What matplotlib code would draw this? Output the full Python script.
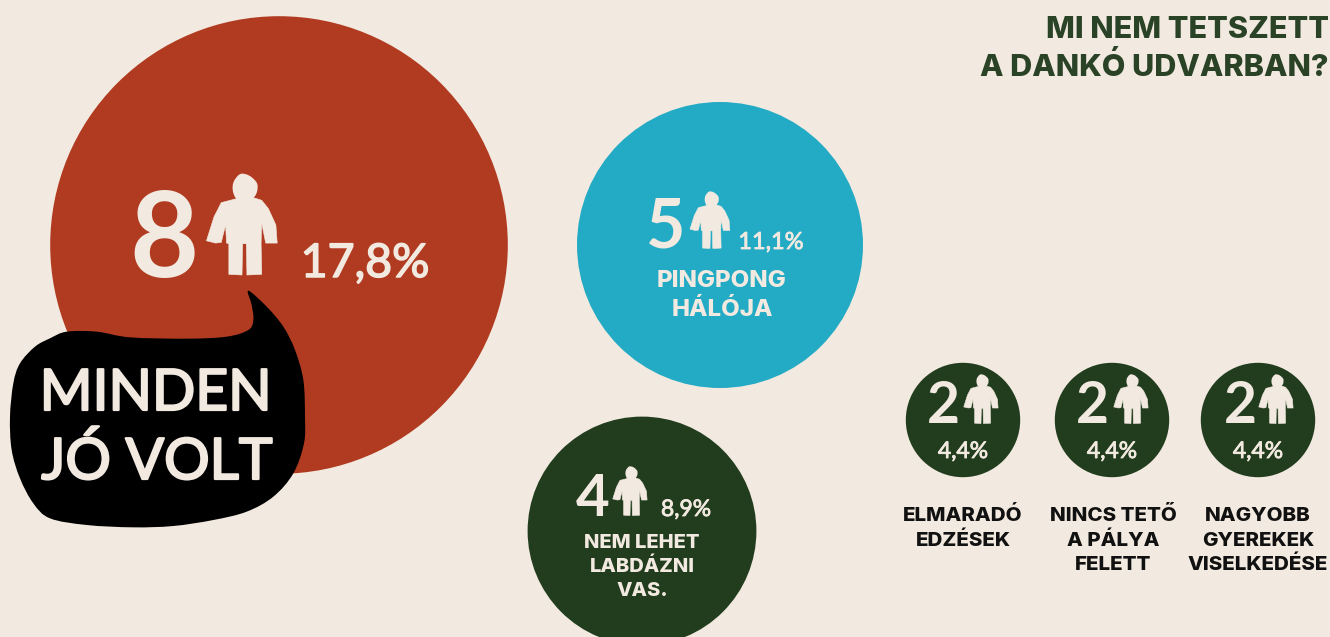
import numpy as np
import matplotlib
matplotlib.use("Agg")
import matplotlib.pyplot as plt
import matplotlib.patheffects as pe
from matplotlib.patches import Circle, PathPatch, Polygon
from matplotlib.path import Path

# ---- data ----
title_lines = ["MI NEM TETSZETT", "A DANKÓ UDVARBAN?"]
categories = ["MINDEN\nJÓ VOLT", "PINGPONG\nHÁLÓJA", "NEM LEHET\nLABDÁZNI\nVAS.",
              "ELMARADÓ\nEDZÉSEK", "NINCS TETŐ\nA PÁLYA\nFELETT", "NAGYOBB\nGYEREKEK\nVISELKEDÉSE"]
counts = [8, 5, 4, 2, 2, 2]
percents = ["17,8%", "11,1%", "8,9%", "4,4%", "4,4%", "4,4%"]

# ---- style / layout ----
BG = "#F2EAE0"; RED = "#B13B20"; BLUE = "#23AAC4"; GREEN = "#223C1E"
CREAM = "#F2EAE0"; TITLE = "#2A4226"; INK = "#111111"
colors = [RED, BLUE, GREEN, GREEN, GREEN, GREEN]
RADIUS_PER_COUNT = 28.6
centers = [(279, 245), (720, 245), (642, 531), (963, 420), (1112, 420), (1258, 420)]
num_layout = [(164, 277, 86), (665, 248, 49), (593, 516, 42), (943, 423, 41), (1092, 423, 41), (1240, 423, 41)]
person_layout = [(242, 173, 103), (710, 191, 58), (630, 466, 50), (981, 374, 50), (1131, 374, 50), (1276, 374, 50)]
pct_layout = [(365, 277, 33.5, 1.1), (771, 249, 17, 0.6), (686, 516, 16.5, 0.6),
              (963, 458, 16.5, 0.6), (1112, 458, 16.5, 0.6), (1258, 458, 16.5, 0.6)]
label_layout = [None,
                (722, [287, 316], 17.3, CREAM),
                (642, [548, 572, 596], 14.5, CREAM),
                (963, [521, 546], 14.8, INK),
                (1113, [521, 546, 570], 14.8, INK),
                (1258, [521, 546, 570], 14.8, INK)]

HAND = "Lato"
plt.rcParams["font.family"] = ["Inter", "DejaVu Sans"]

fig = plt.figure(figsize=(13.3, 6.37), dpi=100, facecolor=BG)
ax = fig.add_axes([0, 0, 1, 1])
ax.set_xlim(0, 1330); ax.set_ylim(637, 0); ax.axis("off")


def smooth_closed(pts):
    pts = np.asarray(pts, float)
    n = len(pts)
    verts = [pts[0]]; codes = [Path.MOVETO]
    for i in range(n):
        p0, p1, p2, p3 = pts[i - 1], pts[i], pts[(i + 1) % n], pts[(i + 2) % n]
        verts += [p1 + (p2 - p0) / 6, p2 - (p3 - p1) / 6, p2]
        codes += [Path.CURVE4] * 3
    return Path(verts, codes)


# person icon outline, in units of icon height (x from centre, y from top)
body = np.array([(108, 100), (62, 112), (40, 155), (17, 228), (45, 235), (62, 233), (75, 180), (78, 235),
                 (85, 237), (85, 330), (125, 332), (127, 237), (138, 237), (140, 332), (185, 330), (183, 235),
                 (185, 175), (197, 235), (232, 235), (228, 180), (205, 130), (185, 105), (160, 97)], float)
body = (body - [125, 22]) / 313
head = np.array([(108, 100), (97, 75), (100, 48), (120, 25), (147, 30), (170, 52), (171, 77), (160, 97), (135, 106)], float)
head = (head - [125, 22]) / 313


def person(cx, top, h):
    ax.add_patch(Polygon(body * h + [cx, top], closed=True, fc=CREAM, ec=CREAM, lw=0.4, joinstyle="round", zorder=4))
    ax.add_patch(PathPatch(smooth_closed(head * h + [cx, top]), fc=CREAM, ec="none", zorder=4))


for c, n, col in zip(centers, counts, colors):
    ax.add_patch(Circle(c, n * RADIUS_PER_COUNT, fc=col, ec="none", zorder=1))

# speech bubble
bubble = np.array([(745, 422), (800, 470), (850, 530), (885, 600), (910, 690), (915, 800), (912, 880), (880, 970),
                   (820, 1040), (740, 1085), (640, 1110), (520, 1128), (400, 1132), (260, 1125), (150, 1105),
                   (100, 1060), (60, 985), (35, 900), (30, 800), (40, 700), (60, 640), (105, 590), (150, 565),
                   (200, 545), (290, 545), (390, 562), (560, 566), (680, 560), (745, 540), (760, 510), (755, 465)],
                  float) / 3 + [0, 150]
ax.add_patch(PathPatch(smooth_closed(bubble), fc="black", ec="none", zorder=3))


def thick(lw):
    return [pe.withStroke(linewidth=lw, foreground=CREAM)]


bubble_lines = categories[0].split("\n")
ax.text(156, 410, bubble_lines[0], family=HAND, fontsize=41, color=CREAM, ha="center", va="baseline", zorder=5, path_effects=thick(1.6))
ax.text(157, 479, bubble_lines[1], family=HAND, fontsize=41, color=CREAM, ha="center", va="baseline", zorder=5, path_effects=thick(1.6))

for i, n in enumerate(counts):
    x, y, s = num_layout[i]
    ax.text(x, y, str(n), family=HAND, weight="bold", fontsize=s, color=CREAM, ha="center", va="baseline", zorder=5)
    person(*person_layout[i])
    x, y, s, lw = pct_layout[i]
    ax.text(x, y, percents[i], family=HAND, fontsize=s, color=CREAM, ha="center", va="baseline", zorder=5, path_effects=thick(lw))
    if label_layout[i]:
        x, ys, s, col = label_layout[i]
        for line, yy in zip(categories[i].split("\n"), ys):
            ax.text(x, yy, line, fontsize=s, weight=800, color=col, ha="center", va="baseline", zorder=5)

for line, yy in zip(title_lines, [38, 76]):
    ax.text(1329, yy, line, fontsize=22, weight=800, color=TITLE, ha="right", va="baseline", zorder=5)

fig.savefig("out.png", dpi=100, facecolor=BG)
